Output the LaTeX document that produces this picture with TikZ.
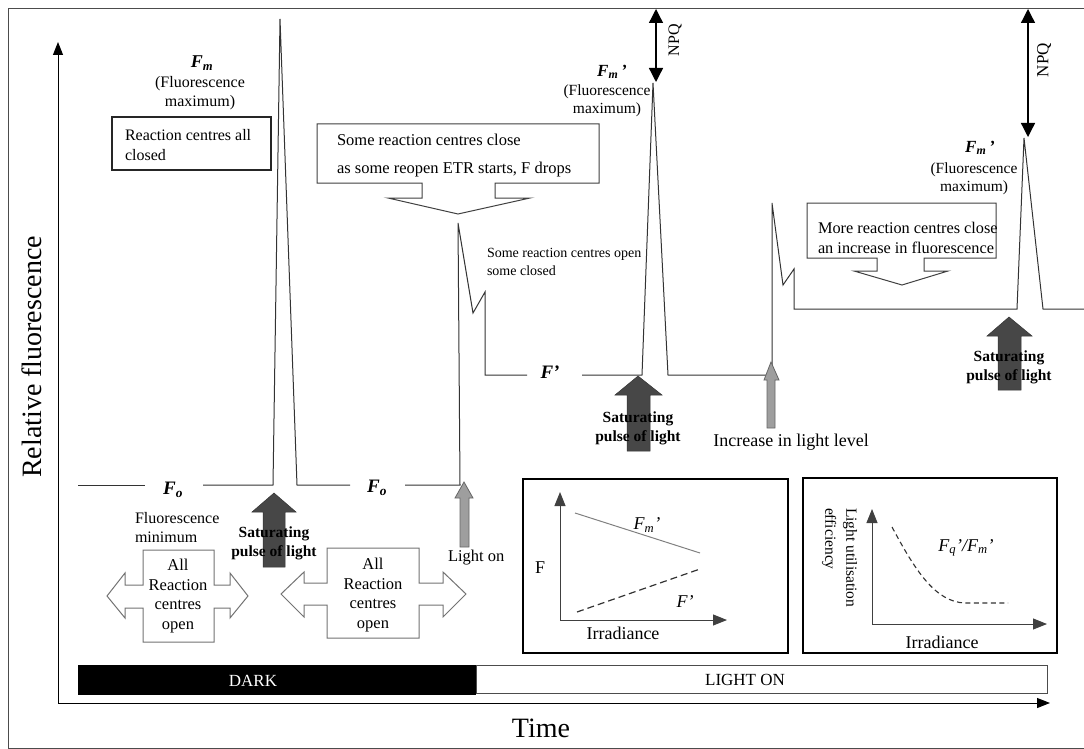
\documentclass[tikz,border=0pt]{standalone}
\usepackage{fontspec}
\setmainfont{Liberation Serif}
\usetikzlibrary{arrows.meta}
\newcommand\myfs[2]{\fontsize{#1}{#2}\selectfont}
\newcommand\Fbi[1]{{\bfseries\itshape F\textsubscript{#1}}}
\begin{document}
\begin{tikzpicture}[x=1pt,y=-1pt,
  txt/.style={inner sep=0pt,outer sep=0pt},
  curve/.style={draw=black!80,line width=1pt,line join=miter},
  axis/.style={draw=black,line width=1pt,-{Triangle[length=13pt,width=10pt]}},
  npq/.style={draw=black,line width=1.3pt,{Triangle[length=14pt,width=14pt]}-{Triangle[length=14pt,width=14pt]}},
  darkarr/.style={fill=black!72,draw=black!80,line width=0.5pt},
  lightarr/.style={fill=black!38,draw=black!60,line width=0.8pt},
  dblarr/.style={draw=black!55,line width=1pt,fill=white},
  callout/.style={draw=black!75,line width=1pt,fill=white},
  inbox/.style={draw=black,line width=2.6pt},
  inaxis/.style={draw=black!75,line width=1pt,-{Triangle[length=14pt,width=11pt]}},
  satlbl/.style={txt,align=center,font=\myfs{15.5}{19}\bfseries},
  parlbl/.style={txt,align=center,font=\myfs{16}{19}},
]
\useasboundingbox (0,0) rectangle (1084,749);
% frame
\draw[black!70,line width=1pt] (8,749) -- (8,9) -- (1084,9);
\draw[black!70,line width=1pt] (8,748) -- (1084,748);
% axes
\coordinate (O) at (58,703);
\coordinate (ytop) at (58,42);
\coordinate (xend) at (1050,703);
\draw[axis] (O) -- (ytop);
\draw[axis] (O) -- (xend);
\node[txt,rotate=90,font=\myfs{28}{32}] (ylab) at (32,357) {Relative fluorescence};
\node[txt,font=\myfs{28}{32}] (xlab) at (541,728) {Time};
% bars
\fill[black] (78,665) rectangle (476,695);
\node[txt,text=white,font=\myfs{17}{20}] (dark) at (253,681) {DARK};
\draw[black!70,line width=1pt] (476,665) rectangle (1047,693);
\node[txt,font=\myfs{17}{20}] (lighton) at (745,680) {LIGHT ON};
% fluorescence trace
\draw[curve] (78,485) -- (145,485);
\draw[curve] (203,485) -- (273,485) -- (280,19) -- (297,485) -- (350,485);
\draw[curve] (405,485) -- (460,485) -- (458,223) -- (473,313) -- (485,292) -- (485,375) -- (527,375);
\draw[curve] (582,375) -- (642,375) -- (653,83) -- (668,375) -- (772,375) -- (772,203) -- (783,285) -- (794,269) -- (794,309) -- (1017,309) -- (1024,138) -- (1043,309) -- (1084,309);
% trace labels
\node[txt,font=\myfs{19}{22}] (fo1) at (173,490) {\Fbi{o}};
\node[txt,font=\myfs{19}{22}] (fo2) at (377,488) {\Fbi{o}};
\node[txt,font=\myfs{19}{22}] (fp) at (550,372) {{\bfseries\itshape F'}};
\node[txt,font=\myfs{18}{21}] (fm) at (202,63) {\Fbi{m}};
\node[parlbl] (fmtxt) at (200,93) {(Fluorescence\\maximum)};
\node[txt,font=\myfs{17}{20}] (fm1) at (612,72) {\Fbi{m}\,{\bfseries\itshape '}};
\node[parlbl,font=\myfs{15.5}{18.5}] (fm1txt) at (607,101) {(Fluorescence\\maximum)};
\node[txt,font=\myfs{17}{20}] (fm2) at (980,148) {\Fbi{m}\,{\bfseries\itshape '}};
\node[parlbl,font=\myfs{15.5}{18.5}] (fm2txt) at (974,179) {(Fluorescence\\maximum)};
\node[txt,anchor=west,align=left,font=\myfs{16}{19}] (fmin) at (135,527.5) {Fluorescence\\minimum};
\node[txt,anchor=west,align=left,font=\myfs{14}{18}] (open) at (487,262) {Some reaction centres open\\some closed};
% NPQ
\coordinate (npq1a) at (656,9);
\coordinate (npq1b) at (656,82);
\draw[npq] (npq1a) -- (npq1b);
\node[txt,rotate=90,font=\myfs{16}{19}] (npq1) at (675,40) {NPQ};
\coordinate (npq2a) at (1028,9);
\coordinate (npq2b) at (1028,137);
\draw[npq] (npq2a) -- (npq2b);
\node[txt,rotate=90,font=\myfs{17}{20}] (npq2) at (1044,60) {NPQ};
% boxes
\draw[black!85,line width=1.1pt] (112,117) rectangle (271,170);
\node[txt,anchor=west,align=left,font=\myfs{16}{20}] (rcclosed) at (125,145) {Reaction centres all\\closed};
\draw[callout] (317,124) -- (599,124) -- (599,183) -- (495,183) -- (495,198) -- (530,198) -- (458,214) -- (388,198) -- (422,198) -- (422,183) -- (317,183) -- cycle;
\node[txt,anchor=west,align=left,font=\myfs{16.5}{28}] (etr) at (337,156) {Some reaction centres close\\as some reopen ETR starts, F drops};
\draw[callout] (807,203) -- (996,203) -- (996,258) -- (924,258) -- (924,271) -- (948,271) -- (902,285) -- (854,271) -- (877,271) -- (877,258) -- (807,258) -- cycle;
\node[txt,anchor=west,align=left,font=\myfs{16.3}{20}] (more) at (818,238) {More reaction centres close\\an increase in fluorescence};
% double arrows
\draw[dblarr] (143,550) -- (214,550) -- (214,585) -- (230,585) -- (230,573) -- (248,596) -- (230,618) -- (230,608) -- (214,608) -- (214,642) -- (143,642) -- (143,608) -- (125,608) -- (125,618) -- (107,596) -- (125,573) -- (125,585) -- (143,585) -- cycle;
\node[txt,align=center,font=\myfs{16.5}{19.5}] (allopen1) at (178,596) {All\\Reaction\\centres\\open};
\draw[dblarr] (327,548) -- (419,548) -- (419,583) -- (443,583) -- (443,572) -- (466,594) -- (443,617) -- (443,605) -- (419,605) -- (419,638) -- (327,638) -- (327,605) -- (304,605) -- (304,617) -- (281,594) -- (304,572) -- (304,583) -- (327,583) -- cycle;
\node[txt,align=center,font=\myfs{16.5}{19.5}] (allopen2) at (373,595) {All\\Reaction\\centres\\open};
% saturating pulses
\draw[darkarr] (274,493) -- (296,512) -- (285,512) -- (285,567) -- (263,567) -- (263,512) -- (252,512) -- cycle;
\node[satlbl] (sat1) at (274,543.5) {Saturating\\pulse of light};
\draw[darkarr] (638,376) -- (662,395) -- (650,395) -- (650,451) -- (627,451) -- (627,395) -- (615,395) -- cycle;
\node[satlbl] (sat2) at (638,428.5) {Saturating\\pulse of light};
\draw[darkarr] (1009,317) -- (1032,336) -- (1021,336) -- (1021,390) -- (998,390) -- (998,336) -- (987,336) -- cycle;
\node[satlbl] (sat3) at (1009,367.5) {Saturating\\pulse of light};
% light arrows
\draw[lightarr] (464,482) -- (473,498) -- (469,498) -- (469,547) -- (460,547) -- (460,498) -- (455,498) -- cycle;
\node[txt,anchor=west,font=\myfs{16.5}{20}] (lon) at (448,558) {Light on};
\draw[lightarr] (771,362) -- (779,380) -- (775,380) -- (775,428) -- (767,428) -- (767,380) -- (764,380) -- cycle;
\node[txt,font=\myfs{18}{21}] (incr) at (791,442) {Increase in light level};
% inset 1
\draw[inbox] (523,479) rectangle (788,653);
\coordinate (o1) at (560,620);
\coordinate (o1y) at (560,492);
\coordinate (o1x) at (727,620);
\draw[inaxis] (o1) -- (o1y);
\draw[inaxis] (o1) -- (o1x);
\node[txt,font=\myfs{18}{21}] (i1f) at (540,568) {F};
\node[txt,font=\myfs{18}{21}] (i1irr) at (623,633) {Irradiance};
\coordinate (fma) at (575,513);
\coordinate (fmb) at (700,553);
\draw[black!50,line width=1pt] (fma) -- (fmb);
\node[txt,font=\myfs{18}{21}\itshape] (i1fm) at (647,525) {F\textsubscript{m}'};
\coordinate (fpa) at (577,612);
\coordinate (fpb) at (700,569);
\draw[black!80,line width=1.2pt,dash pattern=on 7pt off 4pt] (fpa) -- (fpb);
\node[txt,font=\myfs{18}{21}\itshape] (i1fp) at (685,602) {F'};
% inset 2
\draw[inbox] (803,478) rectangle (1057,653);
\coordinate (o2) at (872,624);
\coordinate (o2y) at (872,509);
\coordinate (o2x) at (1047,624);
\draw[inaxis] (o2) -- (o2y);
\draw[inaxis] (o2) -- (o2x);
\node[txt,rotate=-90,anchor=north west,align=left,font=\myfs{15.5}{21}] (lue) at (857,508) {Light utilisation\\efficiency};
\node[txt,font=\myfs{18}{21}] (i2irr) at (942,642) {Irradiance};
\coordinate (qa) at (892,527);
\coordinate (qb) at (965,603);
\coordinate (qc) at (1008,603);
\draw[black!80,line width=1.1pt,dash pattern=on 5pt off 3.5pt] (qa) .. controls (915,570) and (935,602) .. (qb) -- (qc);
\node[txt,font=\myfs{18}{21}\itshape] (i2lab) at (966,548) {F\textsubscript{q}'/F\textsubscript{m}'};
\end{tikzpicture}
\end{document}
